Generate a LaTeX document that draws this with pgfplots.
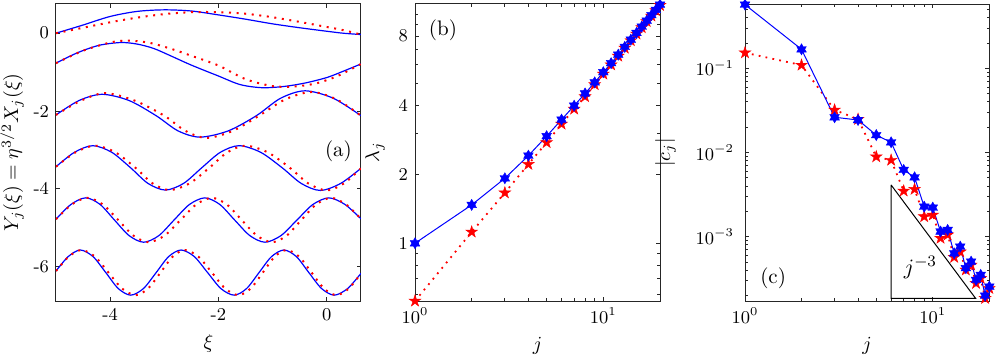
\documentclass[border=0pt]{standalone}
\usepackage{pgfplots}
\pgfplotsset{compat=1.18}
\definecolor{axc}{rgb}{0.15,0.15,0.15}
\pgfdeclareplotmark{pentagram}{%
  \pgfpathmoveto{\pgfpointpolar{90}{\pgfplotmarksize}}%
  \pgfpathlineto{\pgfpointpolar{126}{0.382\pgfplotmarksize}}%
  \pgfpathlineto{\pgfpointpolar{162}{\pgfplotmarksize}}%
  \pgfpathlineto{\pgfpointpolar{198}{0.382\pgfplotmarksize}}%
  \pgfpathlineto{\pgfpointpolar{234}{\pgfplotmarksize}}%
  \pgfpathlineto{\pgfpointpolar{270}{0.382\pgfplotmarksize}}%
  \pgfpathlineto{\pgfpointpolar{306}{\pgfplotmarksize}}%
  \pgfpathlineto{\pgfpointpolar{342}{0.382\pgfplotmarksize}}%
  \pgfpathlineto{\pgfpointpolar{18}{\pgfplotmarksize}}%
  \pgfpathlineto{\pgfpointpolar{54}{0.382\pgfplotmarksize}}%
  \pgfpathclose
  \pgfusepathqfillstroke}
\pgfdeclareplotmark{hexagram}{%
  \pgfpathmoveto{\pgfpointpolar{90}{\pgfplotmarksize}}%
  \pgfpathlineto{\pgfpointpolar{120}{0.577\pgfplotmarksize}}%
  \pgfpathlineto{\pgfpointpolar{150}{\pgfplotmarksize}}%
  \pgfpathlineto{\pgfpointpolar{180}{0.577\pgfplotmarksize}}%
  \pgfpathlineto{\pgfpointpolar{210}{\pgfplotmarksize}}%
  \pgfpathlineto{\pgfpointpolar{240}{0.577\pgfplotmarksize}}%
  \pgfpathlineto{\pgfpointpolar{270}{\pgfplotmarksize}}%
  \pgfpathlineto{\pgfpointpolar{300}{0.577\pgfplotmarksize}}%
  \pgfpathlineto{\pgfpointpolar{330}{\pgfplotmarksize}}%
  \pgfpathlineto{\pgfpointpolar{0}{0.577\pgfplotmarksize}}%
  \pgfpathlineto{\pgfpointpolar{30}{\pgfplotmarksize}}%
  \pgfpathlineto{\pgfpointpolar{60}{0.577\pgfplotmarksize}}%
  \pgfpathclose
  \pgfusepathqfillstroke}
\pgfplotsset{
  mystyle/.style={scale only axis, axis line style={axc, line width=0.5pt},
    every tick/.style={axc, line width=0.4pt}, tick align=inside,
    major tick length=2.2pt, minor tick length=1.3pt,
    tick label style={font=\fontsize{9}{10}\selectfont},
    label style={font=\fontsize{10}{12}\selectfont}},
  bl/.style={blue, line width=0.6pt, smooth},
  rd/.style={red, line width=1pt, dash pattern=on 1pt off 2.8pt, smooth},
  bs/.style={blue, line width=0.5pt, mark=hexagram, mark size=2.8pt, mark options={solid, fill=blue, draw=blue, line width=0.2pt}},
  rs/.style={red, line width=0.9pt, dash pattern=on 0.9pt off 2.6pt, mark=pentagram, mark size=3.1pt, mark options={solid, fill=red, draw=red, line width=0.2pt}},
}
\begin{document}
\begin{tikzpicture}
\useasboundingbox (0,0) rectangle (498.5pt,180pt);
% ---------------- panel (a)
\begin{axis}[mystyle, at={(28pt,29.5pt)}, anchor=south west,
  width=152.5pt, height=148.5pt,
  xmin=-5, xmax=0.633, ymin=-6.88, ymax=0.75,
  xtick={-4,-2,0}, xticklabels={-4,-2,0},
  ytick={-6,-4,-2,0}, yticklabels={-6,-4,-2,0},
  xlabel={$\xi$}, ylabel={$Y_j(\xi)=\eta^{3/2}X_j(\xi)$},
  ylabel style={yshift=-2pt}]
% curve 1
\addplot[bl] coordinates {(-5,0) (-4.5,0.21) (-4,0.43) (-3.5,0.56) (-3.0,0.6) (-2.5,0.57) (-2,0.47) (-1.5,0.36) (-1,0.24) (-0.5,0.14) (0,0.05) (0.3,0.0) (0.633,-0.035)};
\addplot[rd] coordinates {(-5,0) (-4.5,0.14) (-4,0.28) (-3.5,0.40) (-3,0.49) (-2.5,0.54) (-2,0.54) (-1.5,0.50) (-1,0.41) (-0.5,0.29) (0,0.16) (0.3,0.08) (0.633,-0.035)};
% curve 2
\addplot[bl] coordinates {(-5,-0.77) (-4.6,-0.50) (-4.2,-0.31) (-3.8,-0.24) (-3.5,-0.28) (-3.2,-0.39) (-2.9,-0.57) (-2.5,-0.82) (-2,-1.10) (-1.6,-1.32) (-1.2,-1.40) (-0.8,-1.37) (-0.4,-1.28) (0,-1.14) (0.3,-0.98) (0.633,-0.79)};
\addplot[rd] coordinates {(-5,-0.77) (-4.5,-0.45) (-4,-0.24) (-3.7,-0.19) (-3.3,-0.24) (-2.9,-0.39) (-2.5,-0.58) (-2,-0.83) (-1.5,-1.18) (-1,-1.36) (-0.6,-1.37) (-0.2,-1.29) (0.2,-1.10) (0.633,-0.79)};
% curve 3
\addplot[bl] coordinates {(-5,-2.10) (-4.575,-1.73) (-4.15,-1.57) (-3.65,-1.73) (-3.15,-2.12) (-2.745,-2.51) (-2.34,-2.67) (-1.82,-2.51) (-1.30,-2.12) (-0.85,-1.67) (-0.40,-1.48) (0.12,-1.67) (0.633,-2.12)};
\addplot[rd] coordinates {(-5,-2.10) (-4.55,-1.74) (-4.10,-1.54) (-3.55,-1.73) (-3.0,-2.12) (-2.61,-2.51) (-2.22,-2.69) (-1.735,-2.51) (-1.25,-2.12) (-0.765,-1.70) (-0.28,-1.51) (0.18,-1.70) (0.633,-2.12)};
% curve 4
\addplot[bl] coordinates {(-5,-3.43) (-4.66,-3.06) (-4.32,-2.89) (-3.97,-3.06) (-3.62,-3.46) (-3.30,-3.86) (-2.98,-4.03) (-2.645,-3.86) (-2.31,-3.46) (-1.965,-3.06) (-1.62,-2.89) (-1.22,-3.06) (-0.82,-3.46) (-0.47,-3.86) (-0.12,-4.04) (0.257,-3.86) (0.633,-3.47)};
\addplot[rd] coordinates {(-5,-3.43) (-4.64,-3.06) (-4.28,-2.89) (-3.905,-3.06) (-3.53,-3.46) (-3.215,-3.86) (-2.90,-4.03) (-2.535,-3.86) (-2.17,-3.46) (-1.835,-3.06) (-1.50,-2.89) (-1.09,-3.06) (-0.68,-3.46) (-0.34,-3.86) (0.0,-4.04) (0.317,-3.86) (0.633,-3.47)};
% curve 5
\addplot[bl] coordinates {(-5,-4.78) (-4.725,-4.40) (-4.45,-4.23) (-4.185,-4.40) (-3.92,-4.80) (-3.65,-5.20) (-3.38,-5.37) (-3.10,-5.20) (-2.82,-4.80) (-2.535,-4.40) (-2.25,-4.23) (-1.975,-4.40) (-1.70,-4.80) (-1.42,-5.20) (-1.14,-5.37) (-0.845,-5.20) (-0.55,-4.80) (-0.255,-4.40) (0.04,-4.23) (0.337,-4.40) (0.633,-4.77)};
\addplot[rd] coordinates {(-5,-4.78) (-4.71,-4.40) (-4.42,-4.23) (-4.135,-4.40) (-3.85,-4.80) (-3.57,-5.20) (-3.29,-5.37) (-2.995,-5.20) (-2.70,-4.80) (-2.41,-4.40) (-2.12,-4.23) (-1.845,-4.40) (-1.57,-4.80) (-1.29,-5.20) (-1.01,-5.37) (-0.74,-5.20) (-0.47,-4.80) (-0.195,-4.40) (0.08,-4.23) (0.357,-4.40) (0.633,-4.77)};
% curve 6
\addplot[bl] coordinates {(-5,-6.11) (-4.775,-5.74) (-4.55,-5.57) (-4.315,-5.74) (-4.08,-6.15) (-3.85,-6.56) (-3.62,-6.73) (-3.385,-6.56) (-3.15,-6.15) (-2.92,-5.74) (-2.69,-5.57) (-2.445,-5.74) (-2.20,-6.15) (-1.955,-6.56) (-1.71,-6.73) (-1.48,-6.56) (-1.25,-6.15) (-1.02,-5.74) (-0.79,-5.57) (-0.56,-5.74) (-0.33,-6.15) (-0.095,-6.56) (0.14,-6.73) (0.386,-6.56) (0.633,-6.17)};
\addplot[rd] coordinates {(-5,-6.11) (-4.765,-5.74) (-4.53,-5.57) (-4.28,-5.74) (-4.03,-6.15) (-3.78,-6.56) (-3.53,-6.73) (-3.30,-6.56) (-3.07,-6.15) (-2.845,-5.74) (-2.62,-5.57) (-2.37,-5.74) (-2.12,-6.15) (-1.875,-6.56) (-1.63,-6.73) (-1.405,-6.56) (-1.18,-6.15) (-0.96,-5.74) (-0.74,-5.57) (-0.51,-5.74) (-0.28,-6.15) (-0.05,-6.56) (0.18,-6.73) (0.407,-6.56) (0.633,-6.17)};
\node[font=\fontsize{10.5}{12}\selectfont] at (rel axis cs:0.926,0.503) {(a)};
\end{axis}
% ---------------- panel (b)
\begin{axis}[mystyle, at={(207.5pt,29.5pt)}, anchor=south west,
  width=122.5pt, height=148.5pt, xmode=log, ymode=log,
  xmin=1, xmax=20, ymin=0.56, ymax=11.05,
  xtick={1,10}, xticklabels={$10^0$,$10^1$},
  minor xtick={2,3,4,5,6,7,8,9,20},
  ytick={1,2,4,8}, yticklabels={1,2,4,8},
  minor ytick={0.6,0.7,0.8,0.9,3,5,6,7,9,10},
  xlabel={$j$}, ylabel={$\lambda_j$}, clip=false]
\addplot[rs] coordinates {(1,0.56) (2,1.12) (3,1.66) (4,2.21) (5,2.75) (6,3.31) (7,3.85) (8,4.36) (9,4.92) (10,5.47) (11,6.0) (12,6.55) (13,7.1) (14,7.65) (15,8.18) (16,8.72) (17,9.27) (18,9.8) (19,10.35) (20,10.9)};
\addplot[bs] coordinates {(1,1.0) (2,1.47) (3,1.92) (4,2.41) (5,2.93) (6,3.46) (7,3.98) (8,4.50) (9,5.03) (10,5.57) (11,6.10) (12,6.64) (13,7.18) (14,7.72) (15,8.26) (16,8.80) (17,9.34) (18,9.88) (19,10.42) (20,10.98)};
\node[font=\fontsize{10.5}{12}\selectfont] at (rel axis cs:0.114,0.912) {(b)};
\end{axis}
% ---------------- panel (c)
\begin{axis}[mystyle, at={(372.5pt,29.5pt)}, anchor=south west,
  width=122.15pt, height=148.5pt, xmode=log, ymode=log,
  xmin=1, xmax=20, ymin=1.72e-4, ymax=0.58,
  xtick={1,10}, xticklabels={$10^0$,$10^1$},
  minor xtick={2,3,4,5,6,7,8,9,20},
  ytick={1e-3,1e-2,1e-1}, yticklabels={$10^{-3}$,$10^{-2}$,$10^{-1}$},
  yticklabel style={xshift=-2pt},
  minor ytick={2e-4,3e-4,4e-4,5e-4,6e-4,7e-4,8e-4,9e-4,2e-3,3e-3,4e-3,5e-3,6e-3,7e-3,8e-3,9e-3,2e-2,3e-2,4e-2,5e-2,6e-2,7e-2,8e-2,9e-2,2e-1,3e-1,4e-1,5e-1},
  xlabel={$j$}, ylabel={$|c_j|$}, ylabel style={yshift=3pt}, clip=false]
\addplot[black, line width=0.5pt] coordinates {(6,0.00411) (6,1.85e-4) (16.9,1.85e-4) (6,0.00411)};
\addplot[rs] coordinates {(1,0.153) (2,0.109) (3,0.032) (4,0.0248) (5,0.0089) (6,0.0081) (7,0.00349) (8,0.00366) (9,0.00173) (10,0.00181) (11,9.6e-4) (12,1.05e-3) (13,5.69e-4) (14,6.6e-4) (15,4.03e-4) (16,4.61e-4) (17,2.79e-4) (18,3.2e-4) (19,1.85e-4) (20,2.43e-4)};
\addplot[bs] coordinates {(1,0.57) (2,0.168) (3,0.0262) (4,0.0243) (5,0.0161) (6,0.0132) (7,0.0062) (8,0.00507) (9,0.00227) (10,0.00221) (11,0.00115) (12,0.0012) (13,6.35e-4) (14,7.6e-4) (15,4.22e-4) (16,5.05e-4) (17,3.06e-4) (18,3.51e-4) (19,1.99e-4) (20,2.55e-4)};
\node[font=\fontsize{11}{12}\selectfont] at (axis cs:8.6,4.25e-4) {$j^{-3}$};
\node[font=\fontsize{10.5}{12}\selectfont] at (rel axis cs:0.115,0.077) {(c)};
\end{axis}
\end{tikzpicture}
\end{document}
